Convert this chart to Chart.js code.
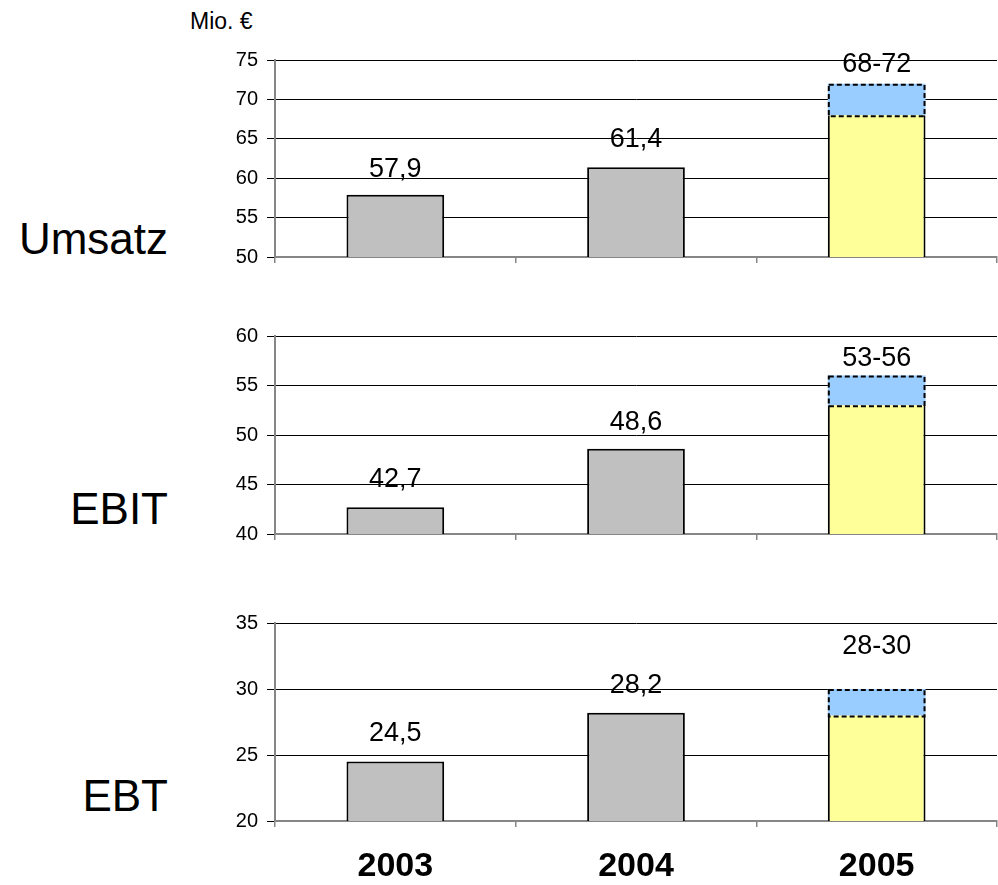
<!DOCTYPE html>
<html>
<head>
<meta charset="utf-8">
<script src="https://cdn.jsdelivr.net/npm/chart.js@4.4.1/dist/chart.umd.min.js"></script>
<style>
  html, body { margin: 0; padding: 0; background: #fff; }
  #wrap { position: relative; width: 998px; height: 885px; overflow: hidden;
          font-family: "Liberation Sans", Arial, sans-serif; }
  #wrap canvas { position: absolute; left: 0; }
  .txt { position: absolute; color: #000; white-space: nowrap; line-height: 1; }
  .row { font-size: 44px; text-align: right; right: 830px; }
</style>
</head>
<body>
<div id="wrap">
  <div class="txt" style="left:190px; top:10px; font-size:23px;">Mio. €</div>
  <div class="txt row" style="top:217px;">Umsatz</div>
  <div class="txt row" style="top:487px;">EBIT</div>
  <div class="txt row" style="top:774px;">EBT</div>
  <canvas id="cUmsatz" width="998" height="300" style="top:0px"></canvas>
  <canvas id="cEbit" width="998" height="290" style="top:300px"></canvas>
  <canvas id="cEbt" width="998" height="295" style="top:590px"></canvas>
</div>
<script>
// Years on the shared category axis
const years = ['2003', '2004', '2005'];

// Reported figures (2003, 2004) and the 2005 forecast range, in Mio. €
const umsatzActual = [57.9, 61.4];
const umsatzForecast = [68, 72];
const ebitActual = [42.7, 48.6];
const ebitForecast = [53, 56];
const ebtActual = [24.5, 28.2];
const ebtForecast = [28, 30];

// Value-axis tick labels of each panel
const umsatzTicks = [50, 55, 60, 65, 70, 75];
const ebitTicks = [40, 45, 50, 55, 60];
const ebtTicks = [20, 25, 30, 35];

const FONT = '"Liberation Sans", Arial, sans-serif';
const GREY_BAR = '#C0C0C0';
const YELLOW_BAR = '#FFFF99';
const BLUE_RANGE = '#99CCFF';
const AXIS_GREY = '#868686';
const CAPTION_SIZE = 27;

const fmt = v => String(v).replace('.', ',');

// Dashed outline around the forecast range and the value captions above the bars
const decorPlugin = {
  id: 'barDecor',
  afterDatasetsDraw(chart, args, opts) {
    const ctx = chart.ctx;
    const baseMeta = chart.getDatasetMeta(0);
    const rangeMeta = chart.getDatasetMeta(1);
    const rangeData = chart.data.datasets[1].data;

    rangeMeta.data.forEach((bar, i) => {
      if (!rangeData[i]) return;
      const p = bar.getProps(['x', 'y', 'base', 'width'], true);
      ctx.save();
      ctx.setLineDash([5, 3]);
      ctx.lineWidth = 2;
      ctx.strokeStyle = '#000';
      ctx.strokeRect(p.x - p.width / 2 + 1, p.y + 1, p.width - 2, p.base - p.y);
      ctx.restore();
    });

    ctx.save();
    ctx.font = CAPTION_SIZE + 'px ' + FONT;
    ctx.fillStyle = '#000';
    ctx.textAlign = 'center';
    ctx.textBaseline = 'alphabetic';
    opts.captions.forEach((text, i) => {
      const baseBar = baseMeta.data[i];
      const rangeBar = rangeData[i] ? rangeMeta.data[i] : null;
      const top = rangeBar ? Math.min(rangeBar.y, baseBar.y) : baseBar.y;
      const centre = top - opts.lift[i];
      ctx.fillText(text, baseBar.x, centre + CAPTION_SIZE * 0.716 / 2);
    });
    ctx.restore();
  }
};

function makePanel(canvasId, actual, forecast, ticks, layout) {
  const baseValues = actual.concat([forecast[0]]);
  const rangeValues = actual.map(() => null).concat([[forecast[0], forecast[1]]]);
  const captions = actual.map(fmt).concat([forecast[0] + '-' + forecast[1]]);
  const lastIdx = years.length - 1;

  return new Chart(document.getElementById(canvasId), {
    type: 'bar',
    data: {
      labels: years,
      datasets: [
        {
          data: baseValues,
          backgroundColor: baseValues.map((v, i) => i === lastIdx ? YELLOW_BAR : GREY_BAR),
          borderColor: '#000',
          borderWidth: c => c.dataIndex === lastIdx
            ? { top: 0, left: 2, right: 2, bottom: 2 } : 2,
          borderSkipped: false,
          grouped: false,
          barPercentage: 0.406,
          categoryPercentage: 1
        },
        {
          data: rangeValues,
          backgroundColor: BLUE_RANGE,
          borderWidth: 0,
          borderSkipped: false,
          grouped: false,
          barPercentage: 0.406,
          categoryPercentage: 1
        }
      ]
    },
    options: {
      responsive: false,
      animation: false,
      events: [],
      layout: { padding: { top: layout.top, right: 1, left: 0, bottom: 0 } },
      plugins: {
        legend: { display: false },
        tooltip: { enabled: false },
        barDecor: { captions: captions, lift: layout.lift }
      },
      scales: {
        x: {
          offset: true,
          grid: { drawOnChartArea: false, drawTicks: true, tickLength: 6,
                  color: AXIS_GREY, lineWidth: 1.5, offset: true },
          border: { display: true, color: AXIS_GREY, width: 2 },
          ticks: {
            display: layout.showYears,
            maxRotation: 0,
            padding: 19,
            color: '#000',
            font: { family: FONT, size: 34, weight: 'bold' }
          },
          afterFit: s => { s.height = layout.xHeight; }
        },
        y: {
          min: ticks[0],
          max: ticks[ticks.length - 1],
          afterBuildTicks: s => { s.ticks = ticks.map(v => ({ value: v })); },
          grid: {
            color: c => (c.tick && c.tick.value === ticks[0]) ? 'rgba(0,0,0,0)' : '#000',
            tickColor: '#000',
            lineWidth: 1,
            tickLength: 8
          },
          border: { display: true, color: AXIS_GREY, width: 2 },
          ticks: {
            padding: 9,
            color: '#000',
            font: { family: FONT, size: 20 }
          },
          afterFit: s => { s.width = 275; }
        }
      }
    },
    plugins: [decorPlugin]
  });
}

makePanel('cUmsatz', umsatzActual, umsatzForecast, umsatzTicks,
  { top: 60, xHeight: 43, showYears: false, lift: [27, 30, 21] });
makePanel('cEbit', ebitActual, ebitForecast, ebitTicks,
  { top: 36, xHeight: 56, showYears: false, lift: [30, 29, 19] });
makePanel('cEbt', ebtActual, ebtForecast, ebtTicks,
  { top: 33, xHeight: 64, showYears: true, lift: [30, 29, 45] });
</script>
</body>
</html>
